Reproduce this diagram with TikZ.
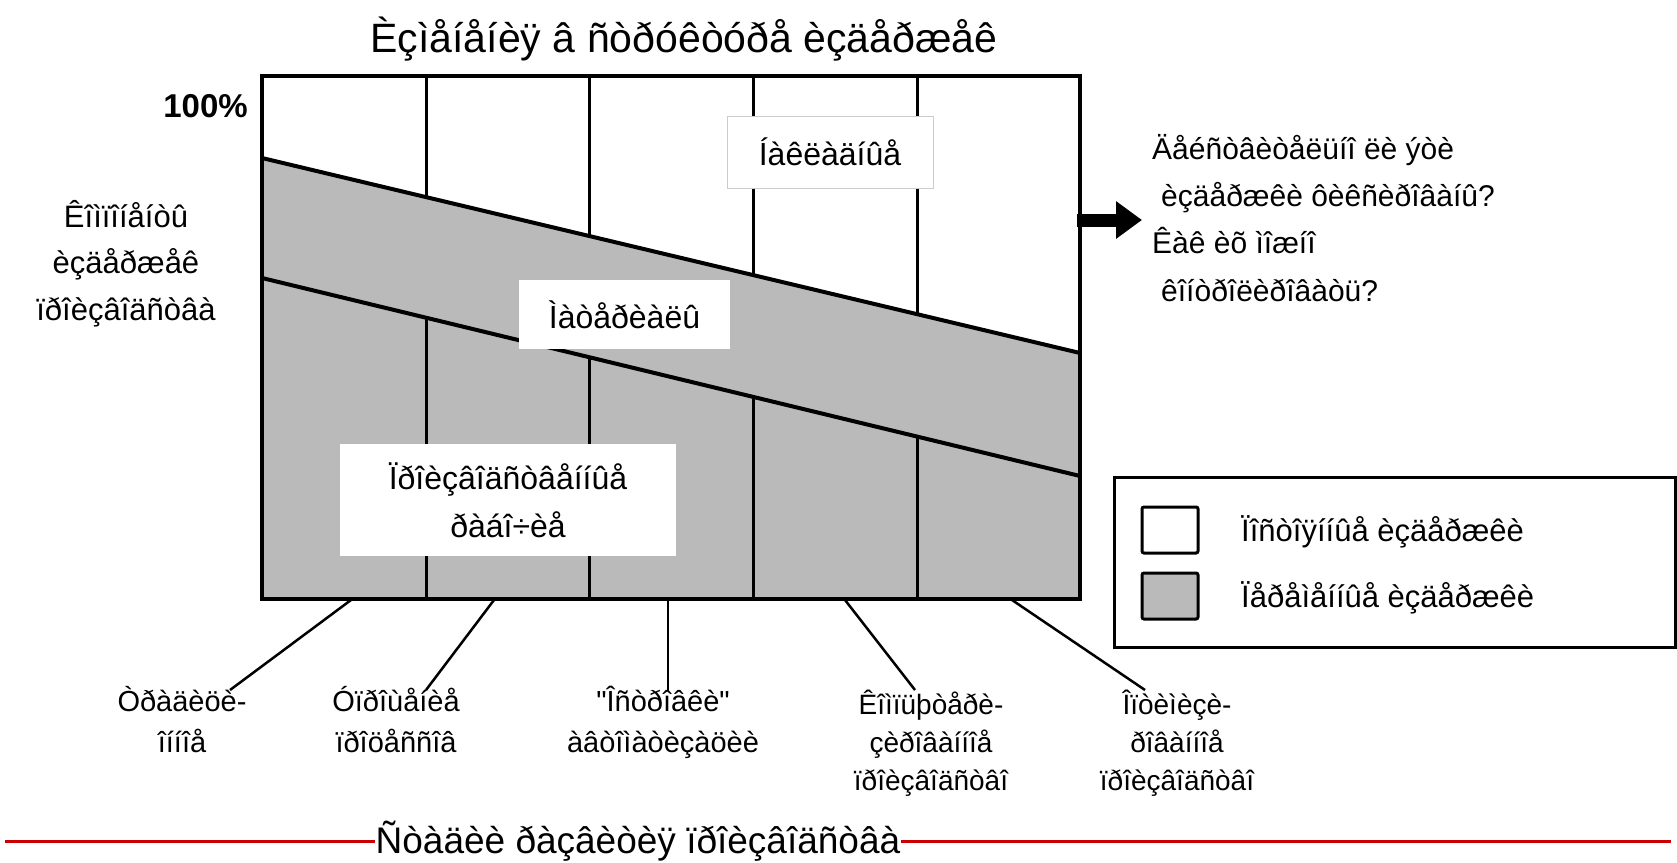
\documentclass[tikz,border=0pt]{standalone}
\usepackage{fontspec}
\setmainfont{Liberation Sans}
\newfontfamily\plainfont{Liberation Sans}
\usetikzlibrary{arrows.meta,calc}
\begin{document}
\begin{tikzpicture}[x=1pt,y=-1pt,line join=miter,
  shadefill/.style={fill=black!27},
  gridline/.style={line width=3pt,black},
  bandline/.style={line width=4pt,black},
  frameline/.style={line width=4pt,black},
  conn/.style={line width=2.5pt,black},
  lbl/.style={inner sep=0pt,align=center,anchor=base},
  chartlbl/.style={fill=white,inner sep=0pt,align=center},
  tsize/.style={font=\fontsize{41}{47}\selectfont},
  msize/.style={font=\fontsize{32}{48}\selectfont},
  ssize/.style={font=\fontsize{29}{41}\selectfont}]
\useasboundingbox (0,0) rectangle (1677,862);

% title
\node[lbl,tsize] (title) at (684,52) {Èçìåíåíèÿ â ñòðóêòóðå èçäåðæåê};

% chart fills and lines
\fill[shadefill] (262,158) -- (1080,353) -- (1080,599) -- (262,599) -- cycle;
\foreach \x in {426,589,753,917}{
  \draw[gridline] (\x,76) -- (\x,{158+0.2384*(\x-262)});
  \draw[gridline] (\x,{278+0.24205*(\x-262)}) -- (\x,599);
}
\draw[bandline] (262,158) -- (1080,353);
\draw[bandline] (262,278) -- (1080,476);
\draw[frameline] (262,76) rectangle (1080,599);

% chart labels
\node[chartlbl,draw=black!20,line width=1pt,minimum width=206,minimum height=72,msize] (overhead) at (830,152) {Íàêëàäíûå};
\node[chartlbl,minimum width=211,minimum height=69,msize] (materials) at (624.5,314.5) {Ìàòåðèàëû};
\node[chartlbl,minimum width=336,minimum height=112,msize] (workers) at (508,500) {Ïðîèçâîäñòâåííûå\\ðàáî÷èå};

% axis text
\node[lbl,anchor=base east,font=\bfseries\fontsize{33}{36}\selectfont] (pct) at (248,117) {100\%};
\node[lbl,font=\fontsize{31}{46.5}\selectfont] (comp) at (126,320) {Êîìïîíåíòû\\èçäåðæåê\\ïðîèçâîäñòâà};

% question text and arrow
\node[lbl,anchor=base west,align=left,font=\fontsize{30}{47.3}\selectfont] (question) at (1152,301) {Äåéñòâèòåëüíî ëè ýòè\\\hspace*{9pt}èçäåðæêè ôèêñèðîâàíû?\\Êàê èõ ìîæíî\\\hspace*{9pt}êîíòðîëèðîâàòü?};
\coordinate (arrtail) at (1077,220);
\coordinate (arrtip) at (1142,220);
\draw[line width=13pt,-{Triangle[length=26pt,width=36pt]}] (arrtail) -- (arrtip);

% legend
\draw[line width=3pt] (1114,477) rectangle (1675,647);
\node[draw,line width=3pt,fill=white,rounded corners=2pt,minimum width=56,minimum height=46,inner sep=0pt] (fixedbox) at (1170,530) {};
\node[draw,line width=3pt,shadefill,rounded corners=2pt,minimum width=56,minimum height=46,inner sep=0pt] (varbox) at (1170,596) {};
\node[lbl,anchor=base west,font=\fontsize{31}{36}\selectfont] (fixedtxt) at (1241,541) {Ïîñòîÿííûå èçäåðæêè};
\node[lbl,anchor=base west,font=\fontsize{31}{36}\selectfont] (vartxt) at (1241,607) {Ïåðåìåííûå èçäåðæêè};

% stage labels
\node[lbl,ssize] (st1) at (182,752) {Òðàäèöè-\\îííîå};
\node[lbl,ssize] (st2) at (396,752) {Óïðîùåíèå\\ïðîöåññîâ};
\node[lbl,ssize] (st3) at (663,752) {{\plainfont"}Îñòðîâêè{\plainfont"}\\àâòîìàòèçàöèè};
\node[lbl,font=\fontsize{28}{38}\selectfont] (st4) at (931,790) {Êîìïüþòåðè-\\çèðîâàííîå\\ïðîèçâîäñòâî};
\node[lbl,font=\fontsize{28}{38}\selectfont] (st5) at (1177,790) {Îïòèìèçè-\\ðîâàííîå\\ïðîèçâîäñòâî};

\coordinate (b1) at (351,600); \coordinate (e1) at (230,690);
\coordinate (b2) at (494,600); \coordinate (e2) at (426,690);
\coordinate (b3) at (668,600); \coordinate (e3) at (668,690);
\coordinate (b4) at (845,600); \coordinate (e4) at (915,690);
\coordinate (b5) at (1012,600); \coordinate (e5) at (1145,690);
\foreach \i in {1,...,5}{\draw[conn] (b\i) -- (e\i);}

% bottom caption with red rule
\draw[line width=3pt,red!80!black] (5,841) -- (1671,841);
\node[lbl,fill=white,inner sep=1pt,font=\fontsize{37}{40}\selectfont] (stages) at (638,853) {Ñòàäèè ðàçâèòèÿ ïðîèçâîäñòâà};
\end{tikzpicture}
\end{document}
